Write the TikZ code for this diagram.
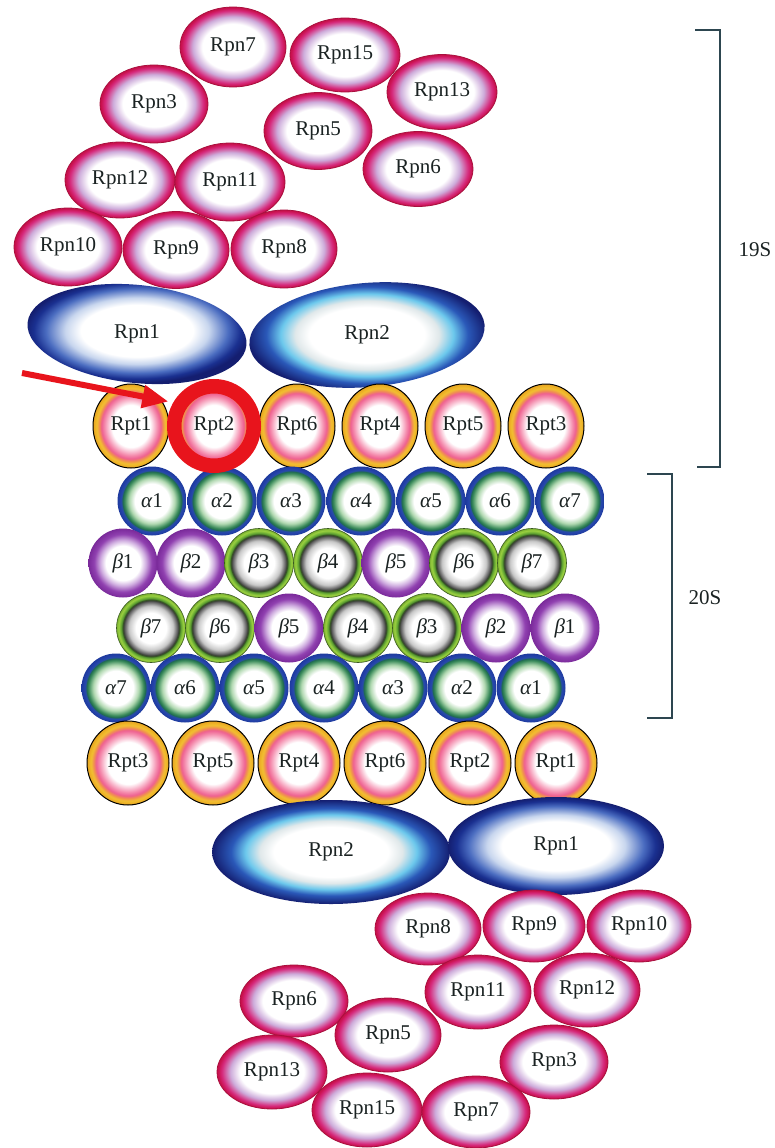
\documentclass[tikz,border=0pt]{standalone}
\usepackage{fontspec}
\setmainfont{Liberation Serif}
\usetikzlibrary{shapes.geometric,arrows.meta}

\definecolor{txt}{HTML}{1A2222}
\definecolor{rpnlav}{HTML}{CDABDA}
\definecolor{rpnmag}{HTML}{D62A7C}
\definecolor{rpncrim}{HTML}{C8104C}
\definecolor{rpnedge}{HTML}{A8103E}
\definecolor{rptpink}{HTML}{F48AAC}
\definecolor{rpthot}{HTML}{EE6090}
\definecolor{rptorange}{HTML}{F09050}
\definecolor{rptyellow}{HTML}{F2C030}
\definecolor{rptgold}{HTML}{E8A420}
\definecolor{alightgreen}{HTML}{B0D8B0}
\definecolor{agreen}{HTML}{3A8A5A}
\definecolor{adkgreen}{HTML}{1F6A50}
\definecolor{ablue}{HTML}{2848B0}
\definecolor{adkblue}{HTML}{1E3A9E}
\definecolor{plav}{HTML}{D0AEE0}
\definecolor{ppurple}{HTML}{9040B0}
\definecolor{pdkpurple}{HTML}{7A2A9A}
\definecolor{ggray}{HTML}{C8C8C8}
\definecolor{gdkgray}{HTML}{505050}
\definecolor{gdark}{HTML}{2A3A20}
\definecolor{ggreen}{HTML}{5AA030}
\definecolor{glime}{HTML}{9AD040}
\definecolor{glime2}{HTML}{7AB030}
\definecolor{gedge}{HTML}{3A5A20}
\definecolor{bpale}{HTML}{C8D6EE}
\definecolor{bblue}{HTML}{4A6CC0}
\definecolor{bdkblue}{HTML}{1A3090}
\definecolor{bnavy}{HTML}{141E70}
\definecolor{cgray}{HTML}{E0E8EA}
\definecolor{ccyan}{HTML}{6CC8EC}
\definecolor{cblue}{HTML}{2A58B8}
\definecolor{hlred}{HTML}{E8141C}
\definecolor{brk}{HTML}{2D4650}

% stops are given for a shape edge at 25bp
\pgfdeclareradialshading{rpnshade}{\pgfpoint{0bp}{0bp}}{color(0bp)=(white); color(14.5bp)=(white); color(19bp)=(rpnlav); color(22.8bp)=(rpnmag); color(24.6bp)=(rpncrim); color(25bp)=(rpncrim); color(50bp)=(rpncrim)}
\pgfdeclareradialshading{rptshade}{\pgfpoint{0bp}{0bp}}{color(0bp)=(white); color(12.5bp)=(white); color(17.5bp)=(rptpink); color(19.5bp)=(rpthot); color(21bp)=(rptorange); color(22.5bp)=(rptyellow); color(25bp)=(rptgold); color(50bp)=(rptgold)}
\pgfdeclareradialshading{alphashade}{\pgfpoint{0bp}{0bp}}{color(0bp)=(white); color(12.5bp)=(white); color(16.5bp)=(alightgreen); color(20bp)=(agreen); color(21.3bp)=(adkgreen); color(22.3bp)=(ablue); color(25bp)=(adkblue); color(50bp)=(adkblue)}
\pgfdeclareradialshading{betapshade}{\pgfpoint{0bp}{0bp}}{color(0bp)=(white); color(12.5bp)=(white); color(16.5bp)=(plav); color(21bp)=(ppurple); color(25bp)=(pdkpurple); color(50bp)=(pdkpurple)}
\pgfdeclareradialshading{betagshade}{\pgfpoint{0bp}{0bp}}{color(0bp)=(white); color(11bp)=(white); color(16bp)=(ggray); color(19.5bp)=(gdkgray); color(20.3bp)=(gdark); color(21.5bp)=(ggreen); color(23.5bp)=(glime); color(25bp)=(glime2); color(50bp)=(glime2)}
\pgfdeclareradialshading{rpnoneshade}{\pgfpoint{0bp}{0bp}}{color(0bp)=(white); color(12.5bp)=(white); color(16bp)=(bpale); color(20.3bp)=(bblue); color(23bp)=(bdkblue); color(25bp)=(bnavy); color(50bp)=(bnavy)}
\pgfdeclareradialshading{rpntwoshade}{\pgfpoint{0bp}{0bp}}{color(0bp)=(white); color(12bp)=(white); color(15bp)=(cgray); color(18bp)=(ccyan); color(21bp)=(cblue); color(25bp)=(bnavy); color(50bp)=(bnavy)}

\newcommand{\myalpha}{{\itshape α}}
\newcommand{\mybeta}{{\itshape β}}

\tikzset{
  base/.style={inner sep=0pt, font=\fontsize{21}{24}\selectfont, text=txt},
  rpn/.style={base, ellipse, minimum width=108pt, minimum height=76pt, shade, shading=rpnshade, draw=rpnedge, line width=0.8pt},
  rpnbig1/.style={base, ellipse, minimum width=220pt, minimum height=98pt, shade, shading=rpnoneshade},
  rpnbig2/.style={base, ellipse, minimum width=236pt, minimum height=104pt, shade, shading=rpntwoshade},
  rpt/.style={base, ellipse, minimum width=76pt, minimum height=84pt, shade, shading=rptshade, draw=black, line width=1pt},
  rptb/.style={rpt, minimum width=82pt},
  alphab/.style={base, circle, minimum size=69pt, shade, shading=alphashade},
  betap/.style={base, circle, minimum size=69pt, shade, shading=betapshade},
  betag/.style={base, circle, minimum size=69pt, shade, shading=betagshade, draw=gedge, line width=0.6pt},
  bracket/.style={draw=brk, line width=2pt},
  brlabel/.style={base, anchor=center},
  hlring/.style={circle, draw=hlred, line width=14.5pt, minimum size=79.5pt, inner sep=0pt},
  hlarrow/.style={draw=hlred, line width=6pt, -{Triangle[length=26pt,width=22pt]}, shorten >=5pt}
}

\begin{document}
\begin{tikzpicture}[x=1pt,y=-1pt]
\fill[white] (0,0) rectangle (775,1148);
\useasboundingbox (0,0) rectangle (775,1148);

% ---- top 19S lid
\node[rpn, minimum width=106pt, minimum height=80pt] (t7) at (233,47) {Rpn7};
\node[rpn, minimum width=110pt, minimum height=74pt] (t15) at (345,55) {Rpn15};
\node[rpn, minimum width=110pt, minimum height=75pt] (t13) at (442,92) {Rpn13};
\node[rpn, minimum height=78pt] (t3) at (154,104) {Rpn3};
\node[rpn, minimum height=77pt] (t5) at (318,131) {Rpn5};
\node[rpn, minimum width=110pt, minimum height=75pt] (t6) at (418,169) {Rpn6};
\node[rpn, minimum width=110pt] (t12) at (120,180) {Rpn12};
\node[rpn, minimum width=110pt, minimum height=78pt] (t11) at (230,182) {Rpn11};
\node[rpn, minimum height=78pt] (t10) at (68,247) {Rpn10};
\node[rpn, minimum width=106pt, minimum height=77pt] (t9) at (176,250) {Rpn9};
\node[rpn, minimum width=106pt, minimum height=78pt] (t8) at (284,249) {Rpn8};

\node[rpnbig1, rotate=-6] (t1) at (137,334) {\rotatebox{6}{Rpn1}};
\node[rpnbig2, rotate=5] (t2) at (367,335) {\rotatebox{-5}{Rpn2}};

% ---- top Rpt ring
\node[rpt] (ta1) at (131,426) {Rpt1};
\node[rpt] (ta2) at (214,426) {Rpt2};
\node[rpt] (ta6) at (297,426) {Rpt6};
\node[rpt] (ta4) at (380,426) {Rpt4};
\node[rpt] (ta5) at (463,426) {Rpt5};
\node[rpt] (ta3) at (546,426) {Rpt3};

% ---- 20S core
\node[alphab] (a11) at (152,501) {\myalpha1};
\node[alphab] (a12) at (222,501) {\myalpha2};
\node[alphab] (a13) at (291,501) {\myalpha3};
\node[alphab] (a14) at (361,501) {\myalpha4};
\node[alphab] (a15) at (431,501) {\myalpha5};
\node[alphab] (a16) at (500,501) {\myalpha6};
\node[alphab] (a17) at (570,501) {\myalpha7};

\node[betap] (b11) at (123,563) {\mybeta1};
\node[betap] (b12) at (191,563) {\mybeta2};
\node[betag] (b13) at (259,563) {\mybeta3};
\node[betag] (b14) at (328,563) {\mybeta4};
\node[betap] (b15) at (396,563) {\mybeta5};
\node[betag] (b16) at (464,563) {\mybeta6};
\node[betag] (b17) at (532,563) {\mybeta7};

\node[betag] (b27) at (151,628) {\mybeta7};
\node[betag] (b26) at (220,628) {\mybeta6};
\node[betap] (b25) at (289,628) {\mybeta5};
\node[betag] (b24) at (358,628) {\mybeta4};
\node[betag] (b23) at (427,628) {\mybeta3};
\node[betap] (b22) at (496,628) {\mybeta2};
\node[betap] (b21) at (565,628) {\mybeta1};

\node[alphab] (a27) at (116,688) {\myalpha7};
\node[alphab] (a26) at (185,688) {\myalpha6};
\node[alphab] (a25) at (254,688) {\myalpha5};
\node[alphab] (a24) at (324,688) {\myalpha4};
\node[alphab] (a23) at (393,688) {\myalpha3};
\node[alphab] (a22) at (462,688) {\myalpha2};
\node[alphab] (a21) at (531,688) {\myalpha1};

% ---- bottom Rpt ring
\node[rptb] (ba3) at (128,763) {Rpt3};
\node[rptb] (ba5) at (213,763) {Rpt5};
\node[rptb] (ba4) at (299,763) {Rpt4};
\node[rptb] (ba6) at (385,763) {Rpt6};
\node[rptb] (ba2) at (470,763) {Rpt2};
\node[rptb] (ba1) at (556,763) {Rpt1};

% ---- bottom 19S lid
\node[rpnbig2, minimum width=238pt] (b2) at (331,852) {Rpn2};
\node[rpnbig1, minimum width=216pt] (b1) at (556,846) {Rpn1};

\node[rpn, minimum width=106pt, minimum height=72pt] (bn8) at (428,929) {Rpn8};
\node[rpn, minimum width=102pt, minimum height=72pt] (bn9) at (534,926) {Rpn9};
\node[rpn, minimum width=104pt, minimum height=72pt] (bn10) at (639,926) {Rpn10};
\node[rpn, minimum width=106pt, minimum height=74pt] (bn11) at (478,992) {Rpn11};
\node[rpn, minimum width=106pt, minimum height=74pt] (bn12) at (587,990) {Rpn12};
\node[rpn, minimum width=108pt, minimum height=72pt] (bn6) at (294,1001) {Rpn6};
\node[rpn, minimum width=106pt, minimum height=74pt] (bn5) at (388,1035) {Rpn5};
\node[rpn, minimum width=108pt, minimum height=74pt] (bn3) at (554,1062) {Rpn3};
\node[rpn, minimum width=110pt, minimum height=74pt] (bn13) at (272,1072) {Rpn13};
\node[rpn, minimum width=110pt, minimum height=74pt] (bn15) at (367,1110) {Rpn15};
\node[rpn, minimum width=108pt, minimum height=72pt] (bn7) at (476,1112) {Rpn7};

% ---- highlight of Rpt2
\node[hlring] (hl) at (ta2) {};
\coordinate (arrowstart) at (22,373);
\draw[hlarrow] (arrowstart) -- (hl.150);

% ---- brackets
\coordinate (s19a) at (695,30);
\coordinate (s19b) at (720,30);
\coordinate (s19c) at (720,467);
\coordinate (s19d) at (697,467);
\draw[bracket] (s19a) -- (s19b) -- (s19c) -- (s19d);
\node[brlabel] (l19) at (755,250) {19S};

\coordinate (s20a) at (647,474);
\coordinate (s20b) at (672,474);
\coordinate (s20c) at (672,718);
\coordinate (s20d) at (647,718);
\draw[bracket] (s20a) -- (s20b) -- (s20c) -- (s20d);
\node[brlabel] (l20) at (705,598) {20S};
\end{tikzpicture}
\end{document}
